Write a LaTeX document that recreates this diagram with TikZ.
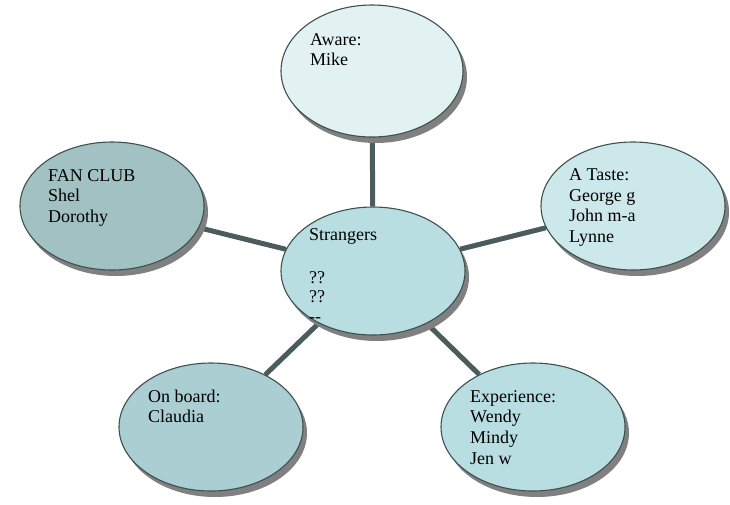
\documentclass[tikz,border=0pt]{standalone}
\usepackage{fontspec}
\setmainfont{Liberation Serif}
\usetikzlibrary{shapes.geometric,shadows,backgrounds}

\definecolor{edgec}{HTML}{3F5050}
\definecolor{linkc}{HTML}{4A5C5C}
\definecolor{shadec}{HTML}{808080}
\definecolor{fillcenter}{HTML}{B8DEE2}
\definecolor{filltop}{HTML}{E2F2F3}
\definecolor{fillfan}{HTML}{A1C1C3}
\definecolor{filltaste}{HTML}{CDE8EA}
\definecolor{fillboard}{HTML}{AACED1}
\definecolor{fillexp}{HTML}{B8DEE2}

\begin{document}
\begin{tikzpicture}[x=1pt,y=-1pt,
  bubble/.style={ellipse, draw=edgec, line width=1.1pt,
    minimum width=184pt, minimum height=128pt, inner sep=0pt,
    drop shadow={shadow xshift=4pt, shadow yshift=-6pt, fill=shadec, opacity=1}},
  % multi-line texts are placed by the baseline of their last line
  txt/.style={anchor=base west, align=left, inner sep=0pt,
    font=\fontsize{18}{20.7}\selectfont},
  link/.style={draw=linkc, line width=5pt}]

\useasboundingbox (0,0) rectangle (730,504);

% ellipses
\node[bubble, fill=filltop, minimum width=182pt, minimum height=132pt] (aware) at (372,71) {};
\node[bubble, fill=fillfan] (fan) at (112,206) {};
\node[bubble, fill=filltaste] (taste) at (633,206) {};
\node[bubble, fill=fillcenter] (center) at (373,271) {};
\node[bubble, fill=fillboard] (board) at (211,427) {};
\node[bubble, fill=fillexp] (exp) at (533,427) {};

% connectors behind the ellipses
\begin{scope}[on background layer]
  \draw[link] (center) -- (aware);
  \draw[link] (center) -- (fan);
  \draw[link] (center) -- (taste);
  \draw[link] (center) -- (board);
  \draw[link] (center) -- (exp);
\end{scope}

% texts
\node[txt] (tAware) at (310,65.7) {Aware:\\Mike};
\node[txt] (tFan) at (48,222.4) {FAN CLUB\\Shel\\Dorothy};
\node[txt] (tTaste) at (569,242.6) {A Taste:\\George g\\John m-a\\Lynne};
\node[txt] (tBoard) at (148,422.7) {On board:\\Claudia};
\node[txt] (tExp) at (470,464.1) {Experience:\\Wendy\\Mindy\\Jen w};
\node[txt] (tStr) at (309,240) {Strangers};
\begin{scope}
  \clip (290,265) rectangle (470,318);
  \node[txt, font=\fontsize{18}{19.5}\selectfont] (tQ) at (309,322) {??\\??\\-{}-};
\end{scope}
\end{tikzpicture}
\end{document}
